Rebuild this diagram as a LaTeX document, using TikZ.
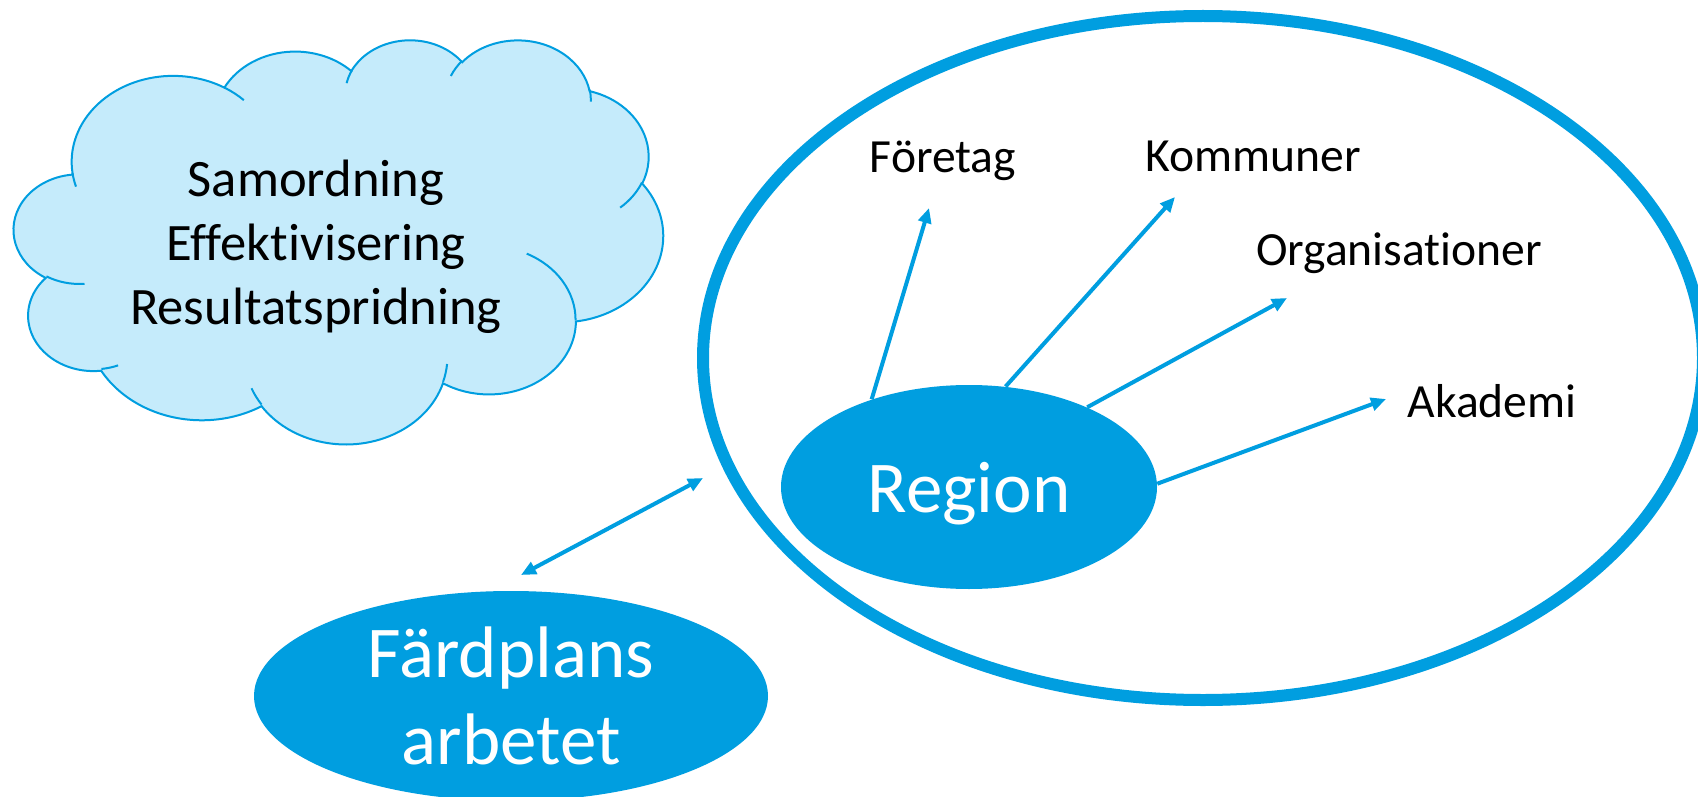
\documentclass[tikz,border=0pt]{standalone}
\usepackage{fontspec}
\setmainfont{Carlito}[Ligatures=NoCommon]
\usetikzlibrary{shapes.geometric,arrows.meta}
\definecolor{pblue}{RGB}{0,158,224}
\definecolor{cloudfill}{RGB}{197,235,251}

% OOXML arcTo (visual angles) -> TikZ arc (parametric angles)
\newcommand\ooprep[5]{%
  \pgfmathsetmacro\oaTs{atan2(#2*sin(#4),#3*cos(#4))}%
  \pgfmathsetmacro\oaTs{\oaTs+360*round((#4-(\oaTs))/360)}%
  \pgfmathsetmacro\oaTe{atan2(#2*sin(#4+#5),#3*cos(#4+#5))}%
  \pgfmathsetmacro\oaTe{\oaTe+360*round((#4+#5-(\oaTe))/360)}%
  \expandafter\xdef\csname oo#1\endcsname{arc[start angle=\oaTs, end angle=\oaTe, x radius=#2, y radius=#3]}%
}

\tikzset{
  lbl/.style={font=\fontsize{23.8}{28}\selectfont, text=black, inner sep=0pt},
  arr/.style={draw=pblue, line width=2pt, -{Triangle[length=7.5pt,width=6.5pt]}},
  darr/.style={draw=pblue, line width=2pt, {Triangle[length=7.5pt,width=6.5pt]}-{Triangle[length=7.5pt,width=6.5pt]}},
  blueell/.style={ellipse, fill=pblue, text=white, inner sep=0pt, align=center},
}

\begin{document}
\begin{tikzpicture}[x=0.5pt,y=-0.5pt]
\useasboundingbox (0,0) rectangle (1698,797);
\fill[white] (0,0) rectangle (1698,797);
\clip (0,0) rectangle (1698,797);

% cloud geometry (preset shape)
\ooprep{A}{6.753}{9.190}{-190.4875}{123.7805}
\ooprep{B}{5.333}{7.267}{-144.1024}{89.9452}
\ooprep{C}{4.365}{5.945}{-145.8079}{99.7230}
\ooprep{D}{4.857}{6.595}{-130.9861}{117.2417}
\ooprep{E}{5.333}{7.273}{-78.7089}{109.0269}
\ooprep{F}{6.775}{9.220}{-46.2673}{130.2690}
\ooprep{G}{5.785}{7.867}{0.6250}{114.0333}
\ooprep{H}{6.752}{9.215}{22.4516}{115.1726}
\ooprep{I}{7.720}{10.543}{66.2426}{75.7110}
\ooprep{J}{4.360}{5.918}{-274.9421}{146.7356}
\ooprep{K}{4.345}{5.945}{-246.8285}{152.5189}
\ooprep{a}{4.345}{5.945}{86.7420}{26.4295}
\ooprep{b}{4.360}{5.918}{73.6105}{11.4475}
\ooprep{c}{6.752}{9.215}{137.6242}{14.0811}
\ooprep{d}{6.752}{9.215}{6.4533}{15.9984}
\ooprep{e}{5.785}{7.867}{-70.2924}{70.9174}
\ooprep{f}{5.333}{7.273}{30.3180}{27.7515}
\ooprep{g}{4.857}{6.595}{-13.7443}{14.8589}
\ooprep{h}{4.857}{6.595}{-149.1815}{18.1954}
\ooprep{i}{4.365}{5.945}{-163.4943}{17.6864}
\ooprep{j}{6.753}{9.190}{-66.7070}{12.3194}
\ooprep{k}{6.753}{9.190}{157.6544}{11.8582}

\begin{scope}[shift={(14,39)}, xscale=15.023, yscale=9.352]
  \draw[fill=cloudfill, draw=pblue, line width=1pt]
    (3.900,14.370) \ooA \ooB \ooC \ooD \ooE \ooF \ooG \ooH \ooI \ooJ \ooK -- cycle;
  \draw[draw=pblue, line width=1pt]
    (4.693,26.177) \ooa
    (6.928,34.899) \oob
    (16.478,39.090) \ooc
    (28.827,34.751) \ood
    (34.129,22.954) \ooe
    (41.798,15.354) \oof
    (38.324,5.426) \oog
    (29.078,3.952) \ooh
    (22.141,4.720) \ooi
    (14.000,5.192) \ooj
    (4.127,15.789) \ook;
\end{scope}

\node[align=center, inner sep=0pt, font=\fontsize{26.3}{32}\selectfont] (cloudtxt) at (316,247)
  {Samordning\\Effektivisering\\Resultatspridning};

% big ellipse
\node[ellipse, draw=pblue, line width=6pt, minimum width=500pt, minimum height=342pt, inner sep=0pt] (big) at (1203,358) {};

% Region
\node[blueell, minimum width=188pt, minimum height=102pt, text depth=0pt, font=\fontsize{36.5}{44}\selectfont] (region) at (969,487) {Region};

% Färdplans arbetet
\node[blueell, minimum width=257pt, minimum height=105pt, font=\fontsize{36.5}{43.5}\selectfont] (fard) at (511,696) {Färdplans\\arbetet};

% labels
\node[lbl, anchor=base] (foretag) at (943,173) {Företag};
\node[lbl, anchor=base] (kommuner) at (1253,171) {Kommuner};
\node[lbl, anchor=base] (org) at (1399,265) {Organisationer};
\node[lbl, anchor=base] (akademi) at (1492,417) {Akademi};

% arrow tips
\coordinate (tF) at (929,208);
\coordinate (tK) at (1175,197);
\coordinate (tO) at (1287,298);
\coordinate (tA) at (1386,399);
\coordinate (dA) at (521,575);
\coordinate (dB) at (703,478);

\draw[arr] (region.138) -- (tF);
\draw[arr] (region.70) -- (tK);
\draw[arr] (region.34) -- (tO);
\draw[arr] (region.1) -- (tA);
\draw[darr] (dA) -- (dB);
\end{tikzpicture}
\end{document}
